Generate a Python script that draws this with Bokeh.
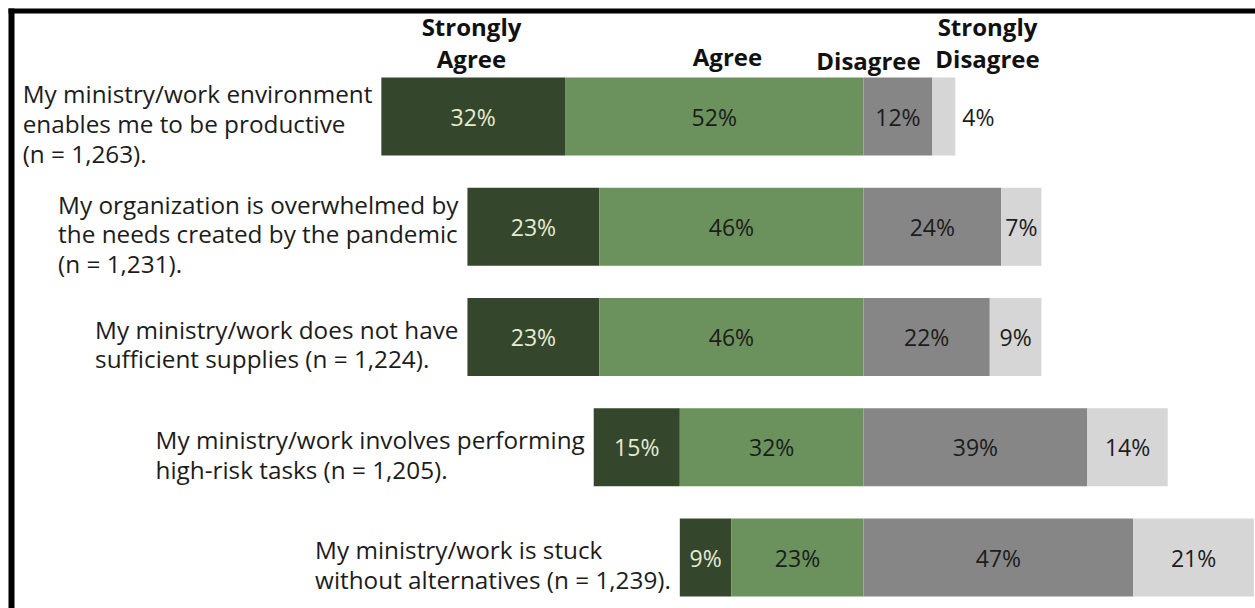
from bokeh.plotting import figure
from bokeh.models import Range1d, ColumnDataSource, BoxAnnotation
from bokeh.embed import file_html
from bokeh.resources import INLINE
from bokeh.core.properties import value

# ---------------- data ----------------
statements = [
    "My ministry/work environment\nenables me to be productive\n(n = 1,263).",
    "My organization is overwhelmed by\nthe needs created by the pandemic\n(n = 1,231).",
    "My ministry/work does not have\nsufficient supplies (n = 1,224).",
    "My ministry/work involves performing\nhigh-risk tasks (n = 1,205).",
    "My ministry/work is stuck\nwithout alternatives (n = 1,239).",
]
strongly_agree = [32, 23, 23, 15, 9]
agree = [52, 46, 46, 32, 23]
disagree = [12, 24, 22, 39, 47]
strongly_disagree = [4, 7, 9, 14, 21]
response_labels = ["Strongly\nAgree", "Agree", "Disagree", "Strongly\nDisagree"]

# ---------------- styling / layout ----------------
COL_SA = "#34472d"
COL_A = "#6b915c"
COL_D = "#868686"
COL_SD = "#d6d6d6"
TXT = "#1c1c1c"
TXT_LIGHT = "#e6ebd0"
FONT = value("Open Sans")

W, H = 1255, 608
PX_PER_PCT = 5.74      # horizontal scale
CX = 863               # screen x of the agree/disagree divide
ROW0 = 116             # screen y of first bar centre
ROW_STEP = 110.25      # screen px between bars

def sx(px):
    return (px - CX) / PX_PER_PCT

def sy(py):
    return (py - ROW0) / ROW_STEP

rows = list(range(len(statements)))
BAR_H = 78 / ROW_STEP

p = figure(width=W, height=H,
           x_range=Range1d(sx(0), sx(W)), y_range=Range1d(sy(H), sy(0)),
           output_backend="svg", toolbar_location=None,
           x_axis_location=None, y_axis_location=None,
           min_border=0, border_fill_color="white", background_fill_color="white")
p.grid.visible = False
p.outline_line_color = None

# frame border (top and left black rules)
p.add_layout(BoxAnnotation(left=sx(8), right=sx(14), top=sy(8), bottom=sy(H),
                           fill_color="black", fill_alpha=1, line_color=None))
p.add_layout(BoxAnnotation(left=sx(8), right=sx(W), top=sy(8), bottom=sy(13),
                           fill_color="black", fill_alpha=1, line_color=None))

# segment extents (diverging at 0 between agree and disagree)
sa_left = [-(s + a) for s, a in zip(strongly_agree, agree)]
sa_right = [-a for a in agree]
a_left = [-a for a in agree]
a_right = [0] * len(agree)
d_left = [0] * len(disagree)
d_right = list(disagree)
sd_left = list(disagree)
sd_right = [d + s for d, s in zip(disagree, strongly_disagree)]

segments = [
    (sa_left, sa_right, strongly_agree, COL_SA, TXT_LIGHT),
    (a_left, a_right, agree, COL_A, TXT),
    (d_left, d_right, disagree, COL_D, TXT),
    (sd_left, sd_right, strongly_disagree, COL_SD, TXT),
]

for left, right, vals, col, tcol in segments:
    src = ColumnDataSource(dict(y=rows, left=left, right=right))
    p.hbar(y="y", left="left", right="right", height=BAR_H, source=src,
           fill_color=col, line_color=None)
    in_x, in_y, in_t = [], [], []
    out_x, out_y, out_t = [], [], []
    for i, (l, r, v) in enumerate(zip(left, right, vals)):
        if v >= 5:
            in_x.append((l + r) / 2); in_y.append(i); in_t.append(f"{v}%")
        else:
            out_x.append(r); out_y.append(i); out_t.append(f"{v}%")
    if in_x:
        p.text(x=in_x, y=in_y, text=in_t, text_font=FONT, text_font_size="23px",
               text_color=tcol, text_align="center", text_baseline="middle")
    if out_x:
        p.text(x=out_x, y=out_y, text=out_t, text_font=FONT, text_font_size="23px",
               text_color=TXT, text_align="left", text_baseline="middle", x_offset=7)

# statement labels: block right-anchored before the bar, lines left-justified
p.text(x=sa_left, y=rows, text=statements, text_font=FONT, text_font_size="24.3px",
       text_color=TXT, anchor="center_right", text_align="left",
       text_line_height=0.9, x_offset=-9, y_offset=7)

# column headers (each line drawn on its own baseline)
hdr_x = [sx(471), sx(727), sx(868), sx(987)]
hdr_base = [sy(58), sy(56), sy(60), sy(58)]
LINE_GAP = 32 / ROW_STEP
hx, hy, ht = [], [], []
for lbl, x, yb in zip(response_labels, hdr_x, hdr_base):
    parts = lbl.split("\n")
    for k, part in enumerate(reversed(parts)):
        hx.append(x); hy.append(yb - k * LINE_GAP); ht.append(part)
p.text(x=hx, y=hy, text=ht, text_font=FONT, text_font_size="24px",
       text_font_style="bold", text_color="#111111", text_align="center",
       text_baseline="alphabetic")

open("out.html", "w").write(file_html(p, INLINE))
